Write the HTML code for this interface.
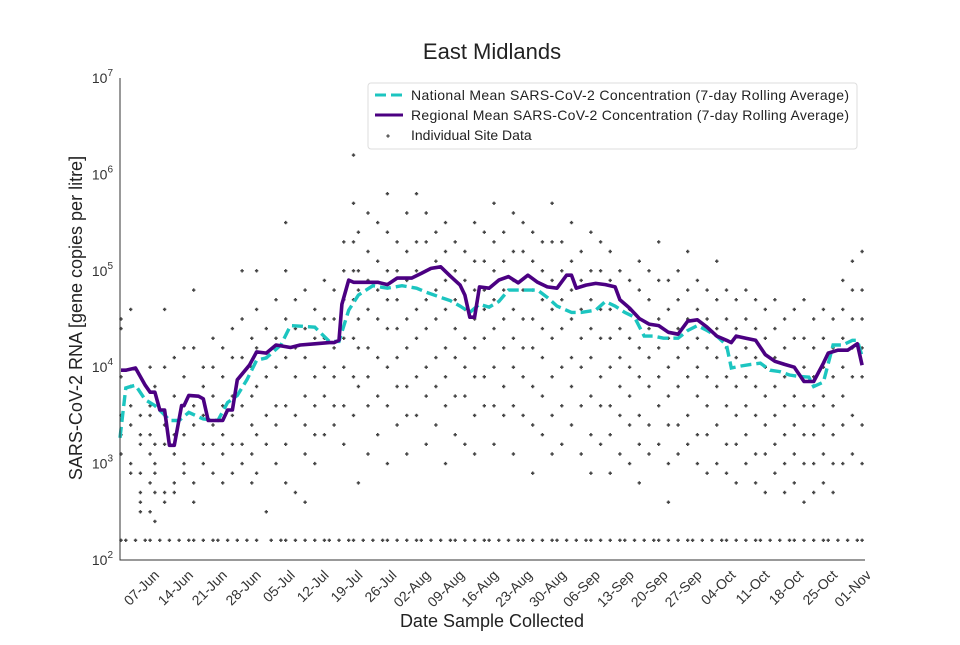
<!DOCTYPE html>
<html><head><meta charset="utf-8"><style>
body{margin:0;background:#fff;width:960px;height:640px;overflow:hidden}
svg{font-family:"Liberation Sans","DejaVu Sans",sans-serif}
</style></head><body>
<svg id="c" width="960" height="640"></svg>
<script>
const xTickLabels=["07-Jun","14-Jun","21-Jun","28-Jun","05-Jul","12-Jul","19-Jul","26-Jul","02-Aug","09-Aug","16-Aug","23-Aug","30-Aug","06-Sep","13-Sep","20-Sep","27-Sep","04-Oct","11-Oct","18-Oct","25-Oct","01-Nov"];
const xTickDays=[6,13,20,27,34,41,48,55,62,69,76,83,90,97,104,111,118,125,132,139,146,153];
const yTickExps=[2,3,4,5,6,7];
const regDays=[0,1,3,5,6,7,8,9,10,11,12.5,13,14,16,17,18,20,21,22,23,24,26.5,28,30,32,35,37,40,43,44,45,45.6,47,48,53,55,57,60,62,64,66,68,70,71,72,73,74,76,78,80,82,84,86,88,90,92,93,94,96,98,100,102,103,105,107,109,111,113,115,117,119,121,123,125,126,127,129,131,133,135,137,139,141,143,145,146,148,150,152,153];
const regVals=[9300,9300,9800,6500,5500,5500,3600,3600,1550,1550,4000,4000,5100,5000,4700,2800,2800,2800,3600,3600,7400,10500,14400,14000,17000,16000,17000,17500,18000,18000,19000,45000,80000,76000,76000,72000,84000,84000,94000,106000,110000,88000,71000,56000,33000,33000,68000,66000,80000,87000,75000,90000,76000,68000,66000,90000,90000,66000,71000,74000,72000,68000,50000,41000,32000,28000,27000,23000,22000,30000,31000,26000,21000,19000,18000,21000,20000,19000,13500,11500,10700,10000,7100,7100,11000,14000,15000,15000,17500,10500];
const natDays=[-0.2,1,3,5,7,9,10,12,14,17,20,22,24,26,28,30,33,35,38,40,43,45,47,49,52,55,58,61,63,66,68,70,72,74,76,78,80,83,86,88,90,93,95,98,100,102,104,106,108,110,112,115,117,119,121,123,125,126,128,130,132,134,136,138,140,142,143,145,147,149,151,152,153];
const natVals=[1850,6100,6500,4600,4000,3200,2800,2800,3400,2900,2800,4300,5100,7400,11800,12500,17000,27000,26500,26000,18500,18500,39000,56000,70000,66000,70000,66000,60000,53000,49000,43000,37000,45000,42000,48000,63000,63000,63000,53000,43000,37000,37000,39000,48000,43000,37000,33000,21000,21000,20000,20000,24000,27000,24000,21000,17000,9800,10300,10700,11000,9300,9000,8300,8000,7900,6300,7000,17000,17000,19000,19000,13000];
const siteColDays=[0,2,4,6,7,9,11,13,15,17,19,21,23,25,27,28,30,32,34,36,38,40,42,44,46,48,49,51,53,55,57,59,61,63,65,67,69,71,73,75,77,79,81,83,85,87,89,91,93,95,97,99,101,103,105,107,109,111,113,115,117,119,121,123,125,127,129,131,133,135,137,139,141,143,145,147,149,151,153];
const siteColLogs=[
[4.5,4.4,3.9,3.5,3.3,3.1],[4.6,3.8,3.6,3.4,3.0,2.9],[3.5,3.3,3.2,2.9,2.7,2.6,2.5],[4.0,3.6,3.5,3.3,3.1,2.8,2.5],[3.8,3.2,3.0,2.9,2.7,2.4],
[4.6,4.0,3.5,3.4,3.2,2.7,2.6],[4.1,3.7,3.3,3.1,2.8,2.7],[4.2,3.9,3.6,3.3,3.0,2.9],[4.8,4.2,3.6,3.4,2.8,2.6],[4.0,3.8,3.5,3.2,3.0],
[4.3,4.0,3.7,3.4,3.2,2.9],[4.2,3.9,3.6,3.3,3.1,2.8],[4.4,4.1,3.7,3.5,3.2,2.9],[5.0,4.5,4.1,3.6,3.2,3.0],[4.3,4.0,3.7,3.4,3.1,2.8],
[5.0,4.6,4.2,3.8,3.3,2.9],[4.4,4.1,3.9,3.5,3.2,2.5],[4.7,4.3,4.0,3.6,3.4,3.0],[5.5,5.0,4.5,4.1,3.6,3.2,2.8],[4.7,4.4,4.2,3.9,3.5,2.7],
[4.8,4.4,4.1,3.7,3.4,3.1,2.6],[4.6,4.3,3.9,3.6,3.3,3.0],[4.9,4.5,4.3,4.0,3.7,3.3],[4.8,4.5,4.2,3.9,3.6,3.4],[5.3,5.0,4.7,4.3,4.0,3.6,3.2],
[6.2,5.7,5.3,5.0,4.7,4.3,3.9,3.5],[5.4,5.0,4.8,4.5,4.2,3.8,2.8],[5.6,5.2,4.9,4.6,4.2,3.9,3.6,3.1],[5.5,5.1,4.8,4.5,4.1,3.7,3.3],[5.8,5.4,5.0,4.7,4.4,4.0,3.6,3.0],
[5.3,5.0,4.7,4.4,4.1,3.8,3.4],[5.6,5.2,4.9,4.5,4.2,3.8,3.5,3.1],[5.8,5.3,5.0,4.6,4.3,3.9,3.5],[5.6,5.3,5.0,4.7,4.4,4.0,3.7,3.2],[5.4,5.1,4.8,4.5,4.1,3.8,3.4],
[5.5,5.2,4.9,4.6,4.2,3.9,3.6,3.0],[5.3,5.0,4.7,4.4,4.1,3.7,3.3],[5.2,4.9,4.6,4.3,4.0,3.7,3.2],[5.5,5.1,4.8,4.5,4.2,3.9,3.5,3.1],[5.4,5.1,4.8,4.6,4.3,3.9,3.6],
[5.7,5.3,5.0,4.7,4.4,4.0,3.6,3.2],[5.4,5.1,4.8,4.5,4.2,3.8,3.5],[5.6,5.2,4.9,4.6,4.3,4.0,3.6,3.1],[5.5,5.2,4.8,4.5,4.2,3.9,3.5],[5.4,5.1,4.8,4.5,4.2,3.8,3.4,2.9],
[5.3,5.0,4.7,4.4,4.1,3.7,3.3],[5.7,5.3,4.9,4.6,4.3,3.9,3.5,3.1],[5.3,5.0,4.7,4.4,4.0,3.6,3.2],[5.5,5.1,4.8,4.5,4.1,3.8,3.4],[5.2,4.9,4.6,4.3,4.0,3.6,3.1],
[5.4,5.0,4.7,4.4,4.1,3.7,3.3,2.9],[5.3,5.0,4.6,4.3,3.9,3.6,3.2],[5.2,4.9,4.6,4.3,4.0,3.6,3.3,2.9],[5.0,4.7,4.4,4.1,3.8,3.5,3.1],[4.9,4.6,4.3,4.0,3.7,3.4,3.0],
[5.1,4.8,4.5,4.2,3.9,3.5,3.2,2.8],[5.0,4.7,4.4,4.1,3.8,3.4,3.1],[5.3,4.9,4.5,4.2,3.9,3.6,3.2],[4.9,4.6,4.3,4.0,3.7,3.4,3.0,2.6],[5.0,4.7,4.4,4.1,3.8,3.4,3.1],
[5.2,4.8,4.5,4.2,3.9,3.5,3.2],[4.9,4.6,4.3,4.0,3.7,3.3,3.0],[4.8,4.5,4.2,3.9,3.6,3.3,2.9],[5.1,4.7,4.4,4.1,3.8,3.4,3.0],[4.8,4.5,4.2,3.9,3.6,3.2,2.9],
[4.7,4.4,4.1,3.8,3.5,3.2,2.8],[4.8,4.5,4.2,3.9,3.6,3.3,3.0],[4.7,4.4,4.1,3.8,3.5,3.1,2.8],[4.6,4.3,4.0,3.7,3.4,3.1,2.7],[4.7,4.4,4.1,3.8,3.5,3.2,2.9],
[4.5,4.2,3.9,3.6,3.3,3.0,2.7],[4.6,4.3,4.0,3.7,3.4,3.1,2.8],[4.7,4.3,4.0,3.6,3.3,3.0,2.6],[4.5,4.2,3.9,3.6,3.3,3.0,2.7],[4.6,4.3,4.0,3.7,3.4,3.1,2.8],
[4.5,4.2,3.9,3.6,3.3,3.0,2.7],[4.9,4.6,4.3,4.0,3.7,3.4,3.0],[5.1,4.8,4.5,4.2,3.9,3.5,3.1],[5.2,4.8,4.5,4.2,3.9,3.4,3.0],[5.1,4.7,4.4,4.1,3.8,3.4,3.0]
];
const lodList=[0,1,3,5,6,8,10,12,14,15,17,19,20,22,24,26,28,31,33,34,36,38,40,42,43,45,47,48,50,52,54,55,57,59,61,62,64,66,68,69,71,73,75,76,78,80,82,83,85,87,89,90,92,94,96,97,99,101,103,104,106,108,110,111,113,115,117,118,120,122,124,125,127,129,131,132,134,136,138,139,141,143,145,146,148,150,152,153];
const lodValue=160;

const svg=document.getElementById('c');
const NS='http://www.w3.org/2000/svg';
const X0=120,X1=865,Y0=78,Y1=560;
function xs(d){return 121+d*4.844;}
function ys(v){return Y1-(Math.log10(v)-2)*96.4;}
function mk(t,a,txt){const e=document.createElementNS(NS,t);for(const k in a)e.setAttribute(k,a[k]);if(txt!==undefined)e.textContent=txt;svg.appendChild(e);return e;}

let pts='';
function plus(x,y){pts+=`M${(x-1.7).toFixed(1)},${y.toFixed(1)}h3.4M${x.toFixed(1)},${(y-1.7).toFixed(1)}v3.4`;}
for(let i=0;i<siteColDays.length;i++){for(const lv of siteColLogs[i])plus(xs(siteColDays[i]),ys(Math.pow(10,lv)));}
for(const d of lodList)plus(xs(d),ys(lodValue));
const sc=mk('path',{d:pts,stroke:'#444',"stroke-width":1.5,fill:'none'});



function line(days,vals,attrs,name){let d='';for(let i=0;i<days.length;i++)d+=(i?'L':'M')+xs(days[i]).toFixed(1)+','+ys(vals[i]).toFixed(1);const p=mk('path',Object.assign({d:d,fill:'none'},attrs));}
line(natDays,natVals,{stroke:'#1cc5c0',"stroke-width":3.4,"stroke-dasharray":"11,5"},'national-mean-line');
line(regDays,regVals,{stroke:'#4b0082',"stroke-width":3.6,"stroke-linejoin":"round"},'regional-mean-line');

const ax=mk('path',{d:`M${X0},${Y0}V${Y1}H${X1}`,stroke:'#333',"stroke-width":1,fill:'none'});


for(const e of yTickExps){const t=mk('text',{x:113,y:ys(Math.pow(10,e))+5,"text-anchor":"end","font-size":14,fill:'#333'});t.innerHTML=`10<tspan dy="-7" font-size="10">${e}</tspan>`;}
for(let i=0;i<xTickDays.length;i++){const x=xs(xTickDays[i]);const t=mk('text',{x:x+10,y:576,"text-anchor":"end","font-size":14,fill:'#333',transform:`rotate(-45 ${x+10} 576)`},xTickLabels[i]);}
const ti=mk('text',{x:492,y:59,"text-anchor":"middle","font-size":22,fill:'#222'},'East Midlands');


const xl=mk('text',{x:492,y:627,"text-anchor":"middle","font-size":18,fill:'#222'},'Date Sample Collected');


const yl=mk('text',{x:82,y:318,"text-anchor":"middle","font-size":18,fill:'#222',transform:'rotate(-90 82 318)'},'SARS-CoV-2 RNA [gene copies per litre]');



const lg=mk('rect',{x:368,y:83,width:489,height:66,rx:3,fill:'#fff',stroke:'#ddd',"fill-opacity":0.85});


mk('line',{x1:375,y1:95,x2:403,y2:95,stroke:'#1cc5c0',"stroke-width":3,"stroke-dasharray":"11,5"});
mk('line',{x1:375,y1:115,x2:403,y2:115,stroke:'#4b0082',"stroke-width":3});
mk('path',{d:'M386.3,136h3.4M388,134.3v3.4',stroke:'#444',"stroke-width":1.2});
const labs=['National Mean SARS-CoV-2 Concentration (7-day Rolling Average)','Regional Mean SARS-CoV-2 Concentration (7-day Rolling Average)','Individual Site Data'];
labs.forEach((s,i)=>{const t=mk('text',{x:411,y:100+i*20,"font-size":14,fill:'#222'});if(i<2)t.setAttribute('textLength',438);t.textContent=s;});
</script>
</body></html>
